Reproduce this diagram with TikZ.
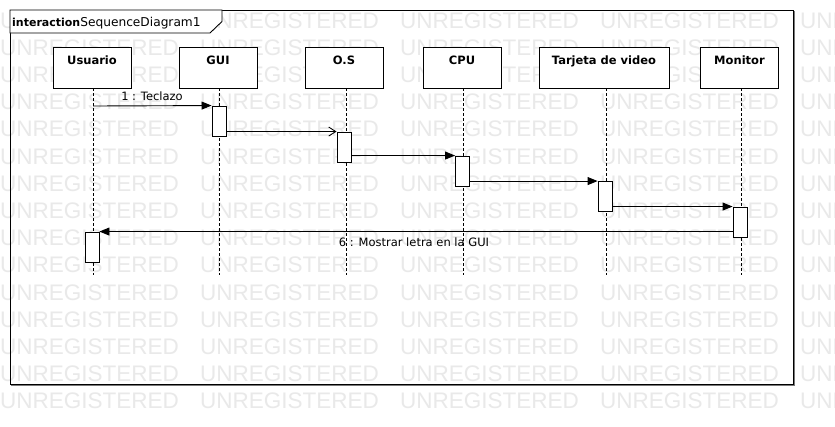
\documentclass[tikz,border=0pt]{standalone}
\usepackage{fontspec}
\setmainfont{DejaVu Sans}
\newfontfamily\wmfont{Liberation Sans}
\usetikzlibrary{arrows.meta}
\definecolor{wmgray}{RGB}{233,233,233}
\definecolor{shadowgray}{RGB}{120,120,120}
\begin{document}
\begin{tikzpicture}[x=1pt,y=-1pt,
  wm/.style={font=\wmfont\fontsize{22.5}{24}\selectfont, text=wmgray, inner sep=0pt, anchor=base west},
  head/.style={draw=black, fill=white, line width=0.9pt, minimum width=78pt, minimum height=41pt, inner sep=0pt},
  headwide/.style={head, minimum width=130pt},
  headtxt/.style={font=\bfseries\fontsize{11.5}{13}\selectfont, inner sep=0pt, anchor=base},
  act/.style={draw=black, fill=white, line width=0.9pt, minimum width=14pt, minimum height=30pt, inner sep=0pt},
  lifeline/.style={draw=black, line width=0.9pt, dash pattern=on 2.5pt off 2.5pt},
  msgline/.style={draw=black, line width=0.9pt},
  sync/.style={msgline, -{Triangle[length=10pt,width=8pt]}},
  async/.style={msgline, -{Straight Barb[length=7pt,width=9pt]}},
  msgtxt/.style={font=\fontsize{11.5}{13}\selectfont, inner sep=0pt, anchor=base}
]
\useasboundingbox (0,0) rectangle (835,426);
\fill[white] (0,0) rectangle (835,426);
% watermark
\foreach \r in {0,...,14}{
  \foreach \c in {0,...,4}{
    \node[wm] (wm-\r-\c) at (\c*200, 28+\r*27.2) {UNREGISTERED};
  }
}
% frame
\draw[shadowgray, line width=1.2pt] (794,11) -- (794,385) -- (11,385);
\draw[black, line width=0.9pt] (10,10) rectangle (793,384);
\filldraw[fill=white, draw=black, line width=0.9pt] (10,10) -- (10,33) -- (210,33) -- (222,21.5) -- (222,10) -- cycle;
\node[inner sep=0pt, anchor=base west] (title) at (12,26.5)
  {{\bfseries\fontsize{11}{13}\selectfont interaction}\fontsize{12.2}{13}\selectfont SequenceDiagram1};
% lifeline heads
\node[head] (usuario) at (92,67.5) {};
\node[head] (gui) at (218,67.5) {};
\node[head] (os) at (344,67.5) {};
\node[head] (cpu) at (462,67.5) {};
\node[headwide] (tarjeta) at (604,67.5) {};
\node[head] (monitor) at (739.5,67.5) {};
\node[headtxt] (usuarioT) at (usuario.center |- 0,64.5) {Usuario};
\node[headtxt] (guiT) at (gui.center |- 0,64.5) {GUI};
\node[headtxt] (osT) at (os.center |- 0,64.5) {O.S};
\node[headtxt] (cpuT) at (cpu.center |- 0,64.5) {CPU};
\node[headtxt] (tarjetaT) at (tarjeta.center |- 0,64.5) {Tarjeta de video};
\node[headtxt] (monitorT) at (monitor.center |- 0,64.5) {Monitor};
% lifelines
\foreach \n/\x in {usuario/93,gui/219,os/346,cpu/463,tarjeta/606,monitor/741}{
  \coordinate (\n-top) at (\x,88);
  \coordinate (\n-end) at (\x,275);
  \draw[lifeline] (\n-top) -- (\n-end);
}
% activations
\node[act] (a1) at (219,121) {};
\node[act] (a2) at (344,147) {};
\node[act] (a3) at (462.5,171) {};
\node[act] (a4) at (605,196.5) {};
\node[act] (a5) at (740,222) {};
\node[act] (a6) at (92,247) {};
% messages
\coordinate (m1s) at (93,106);
\draw[sync] (m1s) -- (a1.north west);
\node[msgtxt] (l1) at (152,100) {1 : Teclazo};
\draw[async] (a1.east |- a2.north) -- (a2.north west);
\draw[sync] (a2.east |- a3.north) -- (a3.north west);
\draw[sync] (a3.east |- a4.north) -- (a4.north west);
\draw[sync] (a4.east |- a5.north) -- (a5.north west);
\draw[sync] (a5.west |- a6.north) -- (a6.north east);
\node[msgtxt] (l6) at (414,246.5) {6 : Mostrar letra en la GUI};
\end{tikzpicture}
\end{document}
